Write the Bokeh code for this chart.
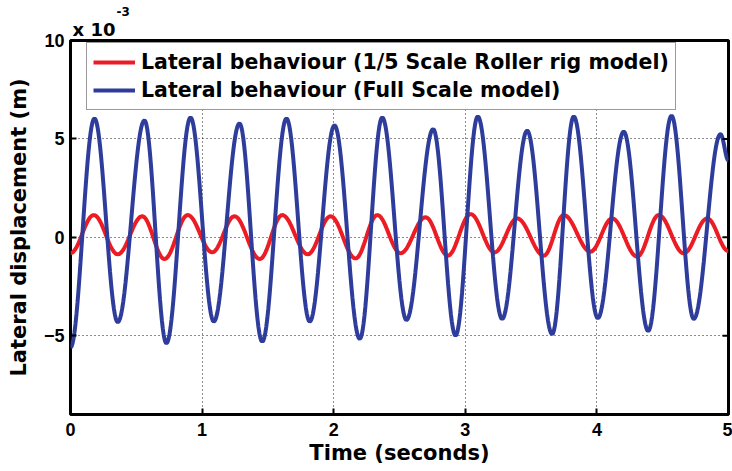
import numpy as np
from bokeh.plotting import figure
from bokeh.models import Range1d, FixedTicker, Legend, LegendItem, Title
from bokeh.embed import file_html
from bokeh.resources import INLINE

# Extrema (time in s, displacement in units of 1e-3 m)
blue_t = [0.0, 0.182, 0.359, 0.562, 0.729, 0.912, 1.089, 1.284, 1.457, 1.641, 1.818,
          2.006, 2.198, 2.369, 2.553, 2.756, 2.926, 3.095, 3.280, 3.470, 3.660,
          3.824, 4.007, 4.204, 4.390, 4.567, 4.736, 4.939, 5.0]
blue_v = [-5.6, 6.04, -4.31, 5.94, -5.38, 6.09, -4.28, 5.79, -5.30, 6.04, -4.28,
          5.69, -5.16, 6.09, -4.20, 5.50, -4.99, 6.14, -4.15, 5.42, -4.92,
          6.14, -4.11, 5.37, -4.76, 6.18, -4.15, 5.24, 3.9]

red_t = [0.0, 0.177, 0.359, 0.545, 0.714, 0.891, 1.077, 1.246, 1.438, 1.609, 1.803,
         1.976, 2.166, 2.331, 2.508, 2.698, 2.867, 3.040, 3.222, 3.394, 3.597,
         3.748, 3.951, 4.116, 4.306, 4.470, 4.660, 4.838, 5.0]
red_v = [-0.8, 1.13, -0.86, 1.07, -1.10, 1.13, -0.76, 1.07, -1.10, 1.13, -0.86,
         1.07, -1.07, 1.13, -0.81, 1.02, -0.93, 1.18, -0.76, 0.96, -0.93,
         1.13, -0.73, 0.96, -0.98, 1.13, -0.81, 0.96, -0.7]

x_ticks = [0, 1, 2, 3, 4, 5]
y_ticks = [-5, 0, 5, 10]
x_min, x_max = 0, 5
y_min, y_max = -9, 10

series_names = ["Lateral behaviour (1/5 Scale Roller rig model)",
                "Lateral behaviour (Full Scale model)"]


def smooth(ts, vs, n=24):
    """Join successive extrema with half-cosine segments (drawing shape only)."""
    xs, ys = [], []
    for i in range(len(ts) - 1):
        s = np.linspace(0, 1, n, endpoint=False)
        w = (1 - np.cos(np.pi * s)) / 2
        xs.extend(ts[i] + (ts[i + 1] - ts[i]) * s)
        ys.extend(vs[i] + (vs[i + 1] - vs[i]) * w)
    xs.append(ts[-1])
    ys.append(vs[-1])
    return xs, ys


TICKFONT = "Liberation Sans"
FONT = "DejaVu Sans"
RED = "#ec1c24"
BLUE = "#2e3d9c"

p = figure(width=732, height=471, output_backend="svg", toolbar_location=None,
           x_range=Range1d(x_min, x_max), y_range=Range1d(y_min, y_max),
           min_border_left=70, min_border_right=4, min_border_top=40, min_border_bottom=57)
p.background_fill_color = "white"
p.border_fill_color = "white"
p.outline_line_color = "black"
p.outline_line_width = 3

rx, ry = smooth(red_t, red_v)
bx, by = smooth(blue_t, blue_v)
r_red = p.line(rx, ry, line_color=RED, line_width=4)
r_blue = p.line(bx, by, line_color=BLUE, line_width=4)

# tick marks on the top and right edges of the box
p.ray(x=x_ticks[1:-1], y=[y_max] * (len(x_ticks) - 2), length=6, length_units="screen",
      angle=-np.pi / 2, line_color="black", line_width=2)
p.ray(x=[x_max] * len(y_ticks[:-1]), y=y_ticks[:-1], length=6, length_units="screen",
      angle=np.pi, line_color="black", line_width=2)

for ax in (p.xaxis[0], p.yaxis[0]):
    ax.axis_line_color = None
    ax.major_tick_in = 6
    ax.major_tick_out = 0
    ax.major_tick_line_color = "black"
    ax.major_tick_line_width = 2
    ax.minor_tick_line_color = None
    ax.major_label_text_font = TICKFONT
    ax.major_label_text_font_style = "bold"
    ax.major_label_text_font_size = "18px"
    ax.major_label_text_color = "black"
    ax.axis_label_text_font = FONT
    ax.axis_label_text_font_style = "bold"
    ax.axis_label_text_font_size = "21px"
    ax.axis_label_text_color = "black"

p.xaxis[0].ticker = FixedTicker(ticks=x_ticks)
p.yaxis[0].ticker = FixedTicker(ticks=y_ticks)
p.xaxis[0].axis_label = "Time (seconds)"
p.yaxis[0].axis_label = "Lateral displacement (m)"
p.xaxis[0].major_label_standoff = 8
p.yaxis[0].major_label_standoff = 6
p.xaxis[0].axis_label_standoff = 2
p.yaxis[0].axis_label_standoff = 10

p.xgrid.ticker = FixedTicker(ticks=[1, 2, 3, 4])
p.ygrid.ticker = FixedTicker(ticks=[-5, 0, 5])
for g in (p.xgrid[0], p.ygrid[0]):
    g.grid_line_color = "black"
    g.grid_line_width = 1
    g.grid_line_dash = "1 3"
    g.grid_line_alpha = 0.9

legend = Legend(items=[LegendItem(label=series_names[0], renderers=[r_red]),
                       LegendItem(label=series_names[1], renderers=[r_blue])],
                location=(16, 304))
legend.label_text_font = FONT
legend.label_text_font_style = "bold"
legend.label_text_font_size = "20.5px"
legend.label_text_color = "black"
legend.glyph_width = 42
legend.glyph_height = 26
legend.label_height = 26
legend.spacing = 2
legend.padding = 6
legend.margin = 0
legend.label_standoff = 6
legend.border_line_color = "#333333"
legend.border_line_width = 1
legend.background_fill_alpha = 1
p.add_layout(legend, "center")

# "x 10^-3" multiplier above the top-left corner (exponent row first, base row nearest the box)
p.title.text = "-3"
p.title.text_font = FONT
p.title.text_font_style = "bold"
p.title.text_font_size = "12px"
p.title.text_color = "black"
p.title.align = "left"
p.title.offset = 46
p.title.standoff = 0
p.add_layout(Title(text="x 10", text_font=FONT, text_font_style="bold", text_font_size="18px",
                   text_color="black", align="left", offset=2, standoff=2), "above")

open("out.html", "w").write(file_html(p, INLINE))
